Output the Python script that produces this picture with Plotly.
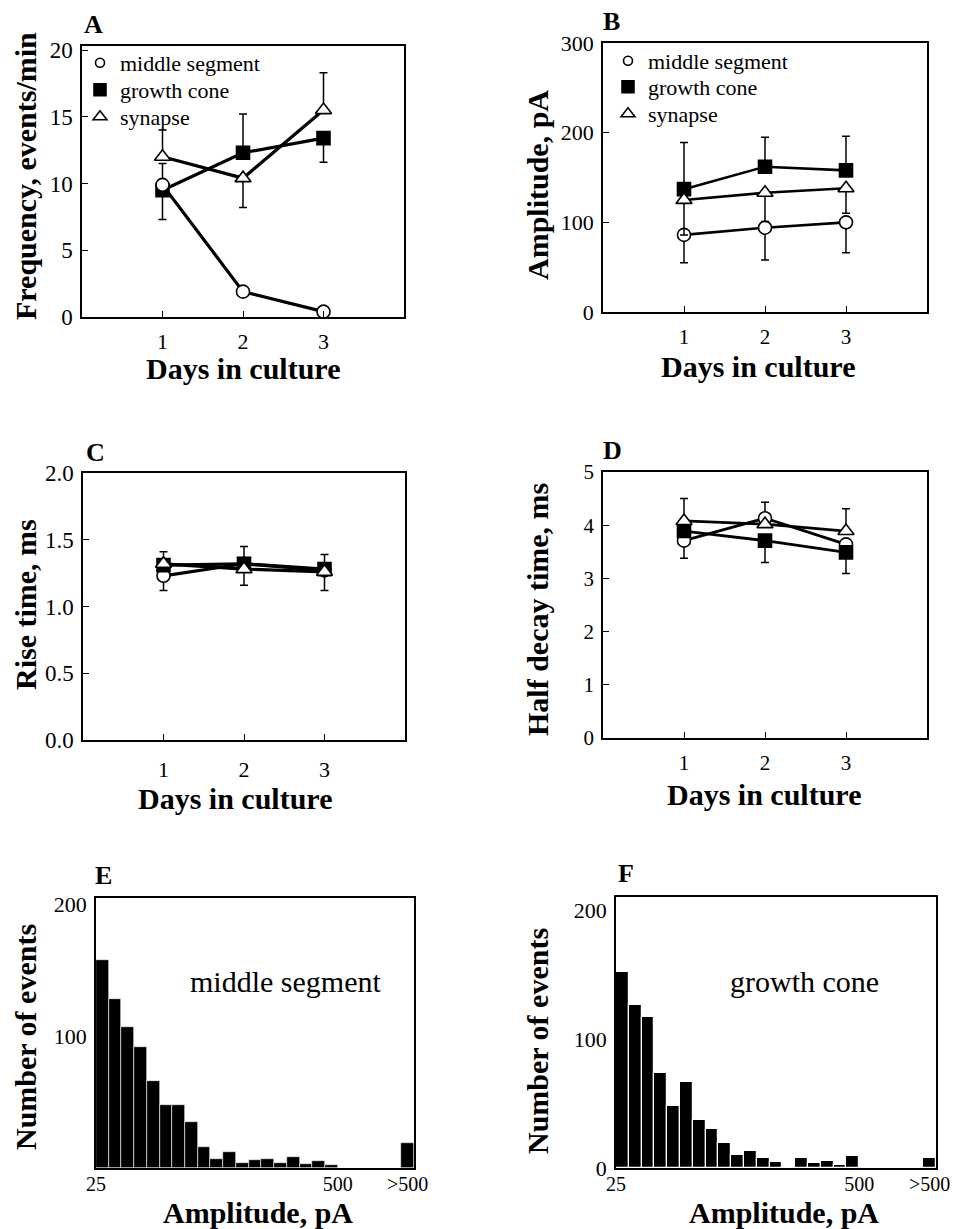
import plotly.graph_objects as go

# The page is shown with the browser's default 8px body margin, so the figure
# is sized to fit the window exactly and all positions below are given in
# window pixels (converted with OFF).
WIN_W, WIN_H = 959, 1229
OFF = 8
W, H = WIN_W - OFF, WIN_H - OFF
FONT = "Liberation Serif"

# ---------------- data ----------------
days = [1, 2, 3]

# A: frequency (events/min)
freq_mid = [9.9, 1.9, 0.4]
freq_mid_up = [1.6, 0, 0]
freq_mid_dn = [0, 0, 0]
freq_gc = [9.5, 12.3, 13.4]
freq_gc_up = [0, 2.9, 0]
freq_gc_dn = [2.2, 0, 1.8]
freq_syn = [12.0, 10.4, 15.5]
freq_syn_up = [2.0, 0, 2.8]
freq_syn_dn = [0, 2.2, 0]

# B: amplitude (pA)
amp_mid = [86, 94, 100]
amp_mid_up = [0, 0, 0]
amp_mid_dn = [31, 36, 34]
amp_gc = [137, 162, 158]
amp_gc_up = [52, 33, 38]
amp_gc_dn = [0, 0, 0]
amp_syn = [125, 133, 138]
amp_syn_up = [0, 0, 0]
amp_syn_dn = [39, 32, 28]

# C: rise time (ms)
rise_mid = [1.23, 1.32, 1.27]
rise_mid_up = [0, 0, 0]
rise_mid_dn = [0.11, 0, 0]
rise_gc = [1.31, 1.32, 1.28]
rise_gc_up = [0, 0.13, 0.11]
rise_gc_dn = [0, 0, 0]
rise_syn = [1.32, 1.28, 1.26]
rise_syn_up = [0.09, 0, 0]
rise_syn_dn = [0, 0.12, 0.14]

# D: half decay time (ms)
dec_mid = [3.71, 4.13, 3.64]
dec_mid_up = [0, 0.30, 0]
dec_mid_dn = [0.33, 0, 0]
dec_gc = [3.89, 3.71, 3.49]
dec_gc_up = [0, 0, 0]
dec_gc_dn = [0, 0.41, 0.40]
dec_syn = [4.08, 4.02, 3.89]
dec_syn_up = [0.42, 0, 0.42]
dec_syn_dn = [0, 0, 0]

# E/F: amplitude histograms (bin lower edge in pA; last bin is ">500")
bin_edges = [25, 50, 75, 100, 125, 150, 175, 200, 225, 250, 275, 300, 325,
             350, 375, 400, 425, 450, 475, 625]
bin_width = 25
hist_mid = [158, 128, 107, 92, 66, 48, 48, 35, 16, 7, 12, 4, 6, 7, 4, 8, 3, 5, 2, 19]
hist_gc = [152, 126, 117, 74, 48, 67, 37, 30, 19, 10, 13, 7.5, 4.7, 1, 7.5, 3.6, 5.7, 2.6, 9, 8]
hist_ticks = [25, 500, 637.5]
hist_ticktext = ["25", "500", ">500"]

series_names = ["middle segment", "growth cone", "synapse"]

# ---------------- helpers ----------------
def px(x):
    return (x - OFF) / W

def py(y):
    return 1 - (y - OFF) / H

STYLE = {
    "middle segment": dict(symbol="circle", color="white", size=13),
    "growth cone": dict(symbol="square", color="black", size=13),
    "synapse": dict(symbol="triangle-up", color="white", size=14),
}

fig = go.Figure()

def add_series(name, y, up, dn, xa, ya, lw):
    st = STYLE[name]
    fig.add_trace(go.Scatter(
        x=days, y=y, mode="lines+markers", name=name, showlegend=False,
        xaxis=xa, yaxis=ya, cliponaxis=False,
        line=dict(color="black", width=lw),
        marker=dict(symbol=st["symbol"], size=st["size"], color=st["color"],
                    line=dict(color="black", width=1.6)),
        error_y=dict(type="data", symmetric=False, array=up, arrayminus=dn,
                     color="black", thickness=1.5, width=4),
    ))

# A
add_series("growth cone", freq_gc, freq_gc_up, freq_gc_dn, "x", "y", 3.2)
add_series("synapse", freq_syn, freq_syn_up, freq_syn_dn, "x", "y", 3.2)
add_series("middle segment", freq_mid, freq_mid_up, freq_mid_dn, "x", "y", 3.2)
# B
add_series("middle segment", amp_mid, amp_mid_up, amp_mid_dn, "x2", "y2", 2.6)
add_series("growth cone", amp_gc, amp_gc_up, amp_gc_dn, "x2", "y2", 2.6)
add_series("synapse", amp_syn, amp_syn_up, amp_syn_dn, "x2", "y2", 2.6)
# C
add_series("middle segment", rise_mid, rise_mid_up, rise_mid_dn, "x3", "y3", 3.2)
add_series("growth cone", rise_gc, rise_gc_up, rise_gc_dn, "x3", "y3", 3.2)
add_series("synapse", rise_syn, rise_syn_up, rise_syn_dn, "x3", "y3", 3.2)
# D
add_series("middle segment", dec_mid, dec_mid_up, dec_mid_dn, "x4", "y4", 2.8)
add_series("growth cone", dec_gc, dec_gc_up, dec_gc_dn, "x4", "y4", 2.8)
add_series("synapse", dec_syn, dec_syn_up, dec_syn_dn, "x4", "y4", 2.8)

# legend entries for A and B: one legend per row so rows can be spaced as in the figure
leg_sizes = {"middle segment": 9, "growth cone": 12, "synapse": 12}
legend_rows = {  # (legend x, row y) in window pixels
    ("x", "y"): (80, [63, 90, 117]),
    ("x2", "y2"): (608, [61, 87, 114]),
}
leg_layouts = {}
k = 1
for (xa, ya), (lx, rows) in legend_rows.items():
    for name, ry in zip(series_names, rows):
        lname = "legend" if k == 1 else f"legend{k}"
        st = STYLE[name]
        fig.add_trace(go.Scatter(
            x=[None], y=[None], mode="markers", name=name, legend=lname,
            xaxis=xa, yaxis=ya, showlegend=True,
            marker=dict(symbol=st["symbol"], size=leg_sizes[name], color=st["color"],
                        line=dict(color="black", width=1.6)),
        ))
        leg_layouts[lname] = dict(
            x=px(lx), y=py(ry), xanchor="left", yanchor="middle",
            bgcolor="rgba(0,0,0,0)", borderwidth=0,
            font=dict(family=FONT, size=22, color="black"), itemclick=False,
        )
        k += 1

# E, F histograms
fig.add_trace(go.Bar(x=bin_edges, y=hist_mid, width=bin_width, offset=0,
                     xaxis="x5", yaxis="y5", showlegend=False,
                     marker=dict(color="black", line=dict(color="white", width=0.6))))
fig.add_trace(go.Bar(x=bin_edges, y=hist_gc, width=bin_width, offset=0,
                     xaxis="x6", yaxis="y6", showlegend=False,
                     marker=dict(color="black", line=dict(color="white", width=1.2))))

# ---------------- axes ----------------
boxes = {
    1: (82, 404, 46, 317),
    2: (603, 927, 43, 312),
    3: (83, 405, 473, 740),
    4: (603, 927, 472, 738),
    5: (96, 414, 898, 1168),
    6: (616, 936, 897, 1168),
}
tickfont = {1: 23, 2: 22, 3: 23, 4: 21, 5: 22, 6: 22}
xtickfont = {1: 22, 2: 21, 3: 22, 4: 21, 5: 20, 6: 20}
xstandoff = {1: 4, 2: 5, 3: 9, 4: 5, 5: -3, 6: -3}
yranges = {1: [0, 20.3], 2: [0, 300], 3: [0, 2.0], 4: [0, 5], 5: [0, 205], 6: [0, 210]}
ytickvals = {
    1: [0, 5, 10, 15, 20],
    2: [0, 100, 200, 300],
    3: [0, 0.5, 1.0, 1.5, 2.0],
    4: [0, 1, 2, 3, 4, 5],
    5: [100, 200],
    6: [0, 100, 200],
}
ytickfmt = {1: None, 2: None, 3: ".1f", 4: None, 5: None, 6: None}

layout = dict(
    width=W, height=H, margin=dict(l=0, r=0, t=0, b=0, autoexpand=False),
    paper_bgcolor="white", plot_bgcolor="white",
    font=dict(family=FONT, color="black"),
    bargap=0,
)
layout.update(leg_layouts)
for i, (x0, x1, y0, y1) in boxes.items():
    sx = "" if i == 1 else str(i)
    hist = i >= 5
    xa = dict(
        domain=[px(x0), px(x1)], anchor="y" + sx, automargin=False,
        showline=True, linecolor="black", linewidth=1.5, mirror=True,
        showgrid=False, zeroline=False,
        ticks="" if hist else "inside", ticklen=6, tickwidth=1.3, tickcolor="black",
        tickfont=dict(family=FONT, size=xtickfont[i], color="black"),
        ticklabelstandoff=xstandoff[i],
    )
    if hist:
        xa.update(range=[25, 650], tickvals=hist_ticks, ticktext=hist_ticktext)
    else:
        xa.update(range=[0, 4], tickvals=days)
    ya = dict(
        domain=[py(y1), py(y0)], anchor="x" + sx, automargin=False,
        showline=True, linecolor="black", linewidth=1.5, mirror=True,
        showgrid=False, zeroline=False, range=yranges[i], tickvals=ytickvals[i],
        ticks="" if hist else "inside", ticklen=6, tickwidth=1.3, tickcolor="black",
        tickfont=dict(family=FONT, size=tickfont[i], color="black"),
        ticklabelstandoff=3,
    )
    if ytickfmt[i]:
        ya["tickformat"] = ytickfmt[i]
    layout["xaxis" + sx] = xa
    layout["yaxis" + sx] = ya

fig.update_layout(**layout)

# ---------------- text annotations ----------------
def txt(s, x, y, size, bold=False, angle=0, xanchor="center"):
    fig.add_annotation(
        text=f"<b>{s}</b>" if bold else s, x=px(x), y=py(y), xref="paper", yref="paper",
        showarrow=False, textangle=angle, xanchor=xanchor, yanchor="middle",
        font=dict(family=FONT, size=size, color="black"),
    )

TS = 30
# panel letters
txt("A", 82, 25, 26, True, xanchor="left")
txt("B", 601, 21, 26, True, xanchor="left")
txt("C", 84, 452, 26, True, xanchor="left")
txt("D", 601, 450, 26, True, xanchor="left")
txt("E", 93, 875, 26, True, xanchor="left")
txt("F", 616, 873, 26, True, xanchor="left")
# axis titles
txt("Days in culture", 243, 368, TS, True)
txt("Days in culture", 758, 366, TS, True)
txt("Days in culture", 235, 798, TS, True)
txt("Days in culture", 764, 794, TS, True)
txt("Amplitude, pA", 258, 1212, TS, True)
txt("Amplitude, pA", 784, 1212, TS, True)
txt("Frequency, events/min", 25, 176, TS, True, angle=-90)
txt("Amplitude, pA", 537, 185, TS, True, angle=-90)
txt("Rise time, ms", 25, 605, TS, True, angle=-90)
txt("Half decay time, ms", 537, 610, TS, True, angle=-90)
txt("Number of events", 25, 1037, TS, True, angle=-90)
txt("Number of events", 537, 1041, TS, True, angle=-90)
# histogram labels
txt("middle segment", 285, 981, 30)
txt("growth cone", 804, 981, 30)

fig.write_html("out.html")
